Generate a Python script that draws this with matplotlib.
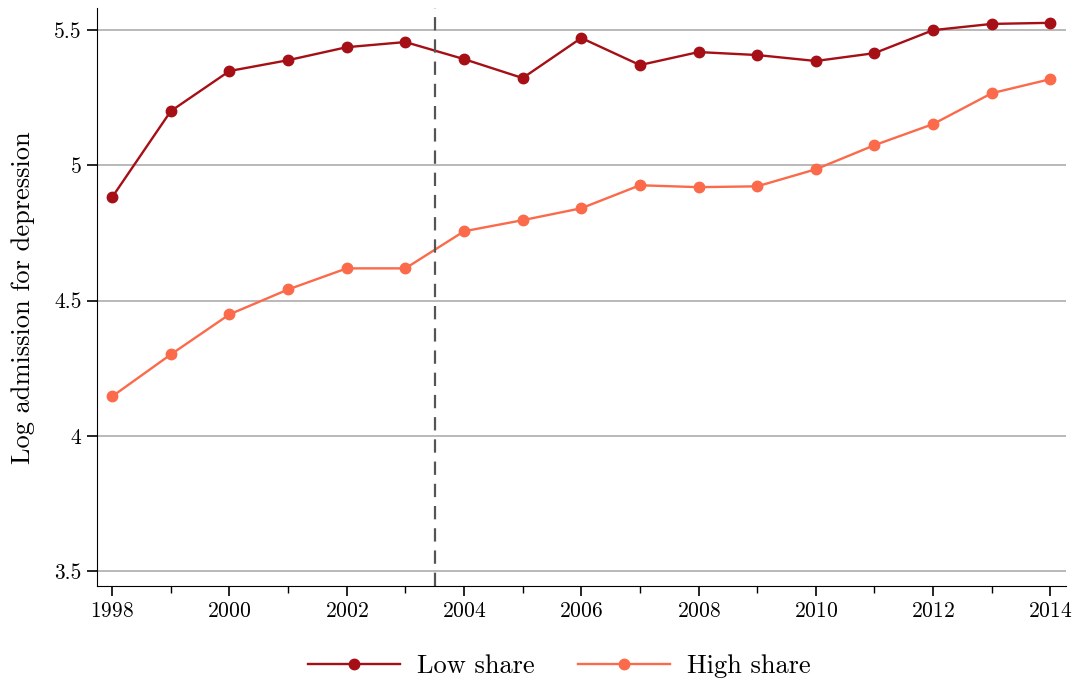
import numpy as np
import matplotlib.pyplot as plt

plt.rcParams['font.family'] = ['cmr10', 'DejaVu Serif']
plt.rcParams['axes.formatter.use_mathtext'] = True

years = np.arange(1998, 2015)
low_share = [4.882, 5.200, 5.348, 5.388, 5.436, 5.455, 5.392, 5.322, 5.470,
             5.370, 5.418, 5.407, 5.385, 5.414, 5.499, 5.522, 5.526]
high_share = [4.146, 4.301, 4.449, 4.541, 4.619, 4.619, 4.756, 4.797, 4.841,
              4.926, 4.919, 4.922, 4.985, 5.074, 5.152, 5.266, 5.318]
policy_year = 2003.5

fig = plt.figure(figsize=(10.77, 6.84), dpi=100)
ax = fig.add_axes([0.090, 0.143, 0.900, 0.845])

ax.plot(years, low_share, color='#A50F15', marker='o', markersize=7.5, lw=1.7, label='Low share')
ax.plot(years, high_share, color='#FB6A4A', marker='o', markersize=7.5, lw=1.7, label='High share')
ax.axvline(policy_year, color='#555555', ls=(0, (6, 4)), lw=1.6)

ax.set_xlim(1997.74, 2014.27)
ax.set_ylim(3.445, 5.58)
ax.set_xticks(np.arange(1998, 2015, 2))
ax.set_xticks(years, minor=True)
ax.set_yticks([3.5, 4, 4.5, 5, 5.5])
ax.set_yticklabels(['3.5', '4', '4.5', '5', '5.5'])
ax.yaxis.grid(True, color='#b3b3b3', lw=1.3)
ax.set_axisbelow(True)
ax.spines['top'].set_visible(False)
ax.spines['right'].set_visible(False)
ax.tick_params(axis='both', labelsize=15.5, length=7.5, width=1.2, direction='out')
ax.tick_params(axis='x', which='minor', length=5, width=1)
ax.set_ylabel('Log admission for depression', fontsize=19, labelpad=14)

ax.legend(loc='center', bbox_to_anchor=(0.477, -0.139), ncol=2, frameon=False,
          fontsize=19, handlelength=3.5, handletextpad=0.65, columnspacing=1.63,
          markerscale=1.0)

fig.savefig('out.png', dpi=100)
